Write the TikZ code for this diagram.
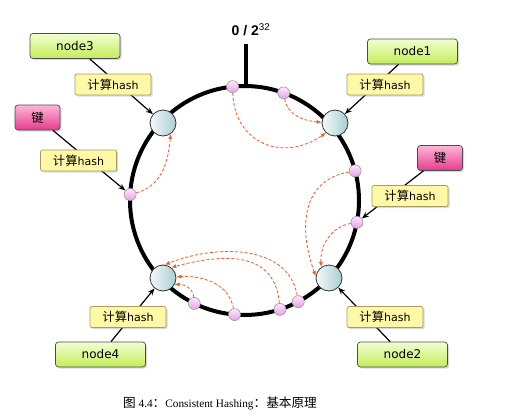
\documentclass[tikz,border=0pt]{standalone}
\usepackage{fontspec}
\setmainfont{DejaVu Sans}
\newfontfamily\cjk[Scale=1.12]{Noto Sans CJK SC}
\newfontfamily\capfont{Liberation Serif}
\newfontfamily\zerofont{Liberation Sans}
\usetikzlibrary{arrows.meta,shadows}

\definecolor{hostlight}{HTML}{F2FFD2}
\definecolor{hostdark}{HTML}{C2EC58}
\definecolor{keylight}{HTML}{FFB6D8}
\definecolor{keydark}{HTML}{E43C8C}
\definecolor{hashfill}{HTML}{FFF8A6}
\definecolor{hashedge}{HTML}{A89C62}
\definecolor{dotlight}{HTML}{FFE6FF}
\definecolor{dotdark}{HTML}{E6A2E6}
\definecolor{ringlight}{HTML}{F4FAFA}
\definecolor{ringdark}{HTML}{A9CDD2}
\definecolor{routecol}{HTML}{EE5A2A}

\tikzset{
  boxshadow/.style={drop shadow={shadow xshift=1.6pt,shadow yshift=-1.6pt,opacity=.3}},
  hostbox/.style={boxshadow,rounded corners=3pt,draw=black!70,line width=.7pt,
    top color=hostlight,bottom color=hostdark,minimum width=90pt,minimum height=25pt,
    inner sep=0pt,font=\fontsize{12}{14}\selectfont},
  keybox/.style={hostbox,top color=keylight,bottom color=keydark,minimum width=45pt,
    font=\cjk\fontsize{11}{13}\selectfont},
  hashbox/.style={boxshadow,rounded corners=2pt,draw=hashedge,line width=.7pt,fill=hashfill,
    minimum width=76pt,minimum height=21pt,inner sep=0pt,font=\fontsize{11}{13}\selectfont},
  hostdot/.style={circle,draw=black!80,line width=.8pt,minimum size=26pt,inner sep=0pt,
    left color=ringlight,right color=ringdark},
  keydot/.style={circle,draw=black!40,line width=.6pt,minimum size=12pt,inner sep=0pt,
    top color=dotlight,bottom color=dotdark},
  feed/.style={line width=1.2pt,-{Stealth[length=7pt,width=5.5pt]}},
  route/.style={routecol,line width=.8pt,dash pattern=on 3pt off 2pt,-{Latex[length=5pt,width=4pt]}},
}

\begin{document}
\begin{tikzpicture}[x=1pt,y=1pt]
\useasboundingbox (0,0) rectangle (513,416);
\coordinate (O) at (244.5,215.5);
\draw[line width=4pt] (O) circle (114.5);
\draw[line width=3.5pt] (246,331) -- (246,372);
\node[font=\zerofont\bfseries\fontsize{14}{16}\selectfont] (zero) at (251,386)
  {0 / 2\textsuperscript{\mdseries 32}};

\node[hostdot] (c3) at (163,293) {};
\node[hostdot] (c1) at (335,293) {};
\node[hostdot] (c4) at (163,138) {};
\node[hostdot] (c2) at (329,138) {};
\foreach \a/\n in {96/ptop,70/pa,15/pr1,-11/pr2,177/pl,244/pb1,265/pb2,288/pb3,298/pb4}
  \node[keydot] (\n) at ([shift={(\a:114.5)}]O) {};

\node[hostbox] (n3) at (75,370) {node3};
\node[hostbox] (n1) at (412.5,364.5) {node1};
\node[hostbox] (n4) at (100.5,61.5) {node4};
\node[hostbox] (n2) at (402.5,61.5) {node2};
\node[keybox] (k1) at (37.5,298.5) {键};
\node[keybox] (k2) at (440,258) {键};

\draw[feed] (n3) -- (c3);
\draw[feed] (n1) -- (c1);
\draw[feed] (n4) -- (c4);
\draw[feed] (n2) -- (c2);
\draw[feed] (k1) -- (pl);
\draw[feed] (k2) -- (pr2);

\node[hashbox] (h3) at (113,331.5) {{\cjk 计算}hash};
\node[hashbox] (h1) at (385,331.5) {{\cjk 计算}hash};
\node[hashbox] (h4) at (128,99) {{\cjk 计算}hash};
\node[hashbox] (h2) at (385,99) {{\cjk 计算}hash};
\node[hashbox] (hk1) at (78.5,255.5) {{\cjk 计算}hash};
\node[hashbox] (hk2) at (410,220) {{\cjk 计算}hash};

\draw[route] (ptop) to[out=-88,in=-145,looseness=1.3] (c1.-133);
\draw[route] (pa) to[out=-80,in=175] (c1.177);
\draw[route] (pl) to[out=15,in=-95] (c3.-55);
\draw[route] (pr1) to[out=190,in=110,looseness=1.15] (c2.172);
\draw[route] (pr2) to[out=190,in=95] (c2.125);
\draw[route] (pb4) to[out=100,in=22] (c4.82);
\draw[route] (pb3) to[out=95,in=15,looseness=1.2] (c4.52);
\draw[route] (pb2) to[out=100,in=3] (c4.5);
\draw[route] (pb1) to[out=95,in=5] (c4.-30);

\node[font=\capfont\fontsize{11.3}{13}\selectfont] (cap) at (220,13)
  {{\cjk 图} 4.4{\cjk ：}Consistent Hashing{\cjk ：基本原理}};
\end{tikzpicture}
\end{document}
